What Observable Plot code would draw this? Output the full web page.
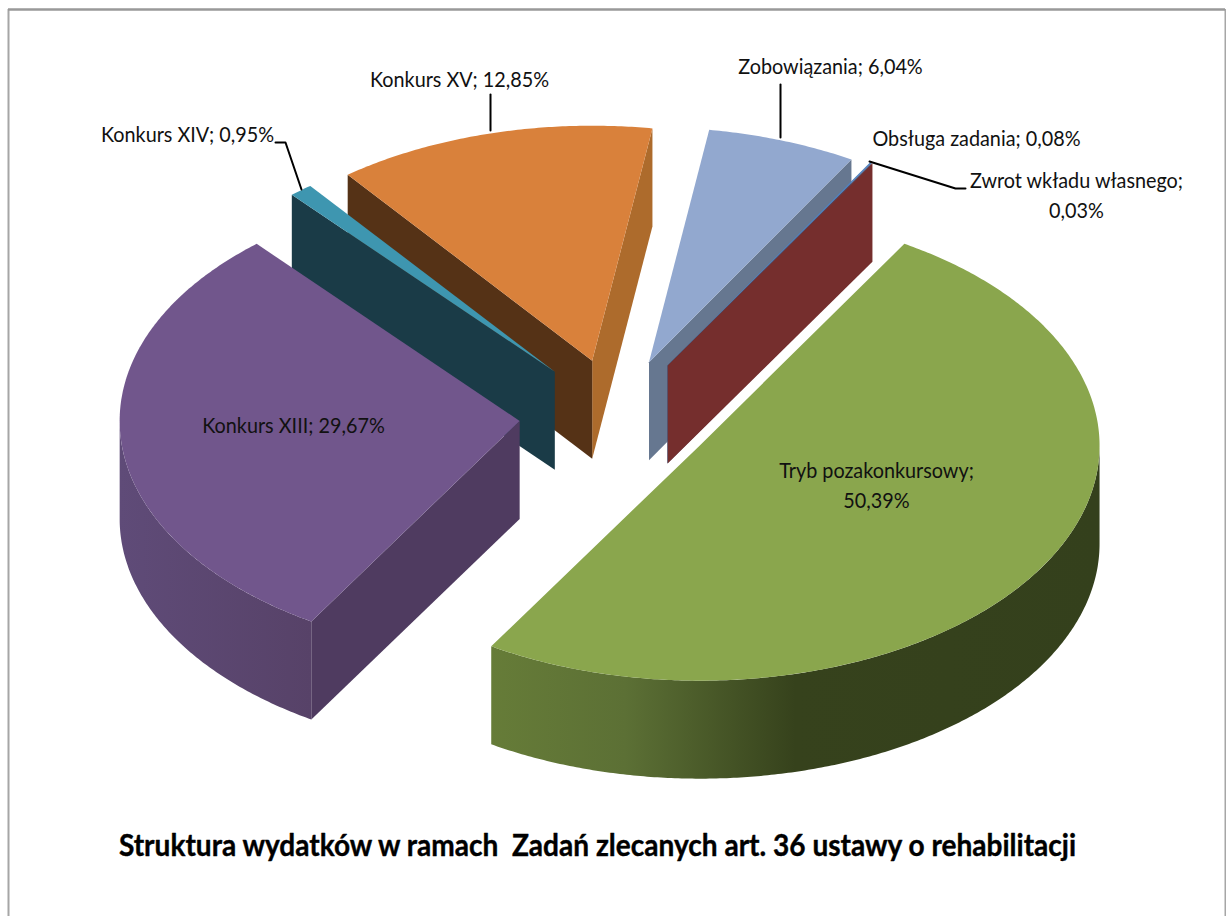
<!DOCTYPE html>
<html><head><meta charset="utf-8">
<script src="https://cdn.jsdelivr.net/npm/d3@7"></script>
<script src="https://cdn.jsdelivr.net/npm/@observablehq/plot@0.6"></script>
<style>html,body{margin:0;padding:0;background:#fff}svg{display:block}</style>
</head><body><div id="chart"></div>
<script>
// Data (clockwise order starting with the big slices)
const categories = ["Tryb pozakonkursowy","Konkurs XIII","Konkurs XIV","Konkurs XV","Zobowiązania","Obsługa zadania","Zwrot wkładu własnego"];
const shares = [50.39,29.67,0.95,12.85,6.04,0.08,0.03];
const pull = [0.243,0.243,0.243,0.243,0.243,0.25,0.25];
const topColors = ["#8AA64D","#71568C","#3E96B0","#D9813B","#92A8CF","#4F81BD","#752E2D"];
const startWall = ["#34401C","#4F3B60","#1A3B47","#553216","#667790","#3A5F8C","#752E2D"];
const endWall = ["#34401C","#4F3B60","#1A3B47","#AD6B2C","#667790","#3A5F8C","#752E2D"];
const outerWall = ["url(#wallGreen)","url(#wallPurple)","#1A3B47","#AD6B2C","#667790","#3A5F8C","#752E2D"];
const paintOrder = [3,2,1,4,5,6,0];

const labelLines = ["Konkurs XV; 12,85%","Konkurs XIV; 0,95%","Zobowiązania; 6,04%","Obsługa zadania; 0,08%","Zwrot wkładu własnego;","0,03%","Konkurs XIII; 29,67%","Tryb pozakonkursowy;","50,39%"];
const labelX = [459,187,830,976,1076,1076,293,876,876];
const labelY = [79,134,66,138,180,210,425,470,500];
const title = "Struktura wydatków w ramach  Zadań zlecanych art. 36 ustawy o rehabilitacji";

const leaders = [
  {id:"XIV",x:275,y:142},{id:"XIV",x:285,y:142},{id:"XIV",x:301,y:189},
  {id:"XV",x:490,y:94},{id:"XV",x:490,y:130},
  {id:"Zob",x:780,y:84},{id:"Zob",x:780,y:137},
  {id:"Zwr",x:869,y:161},{id:"Zwr",x:955,y:188},{id:"Zwr",x:965,y:188}
];

// Pie projection: an ellipse extruded downward, every slice pulled out along its bisector.
// "lean" is the small foreshortening of the 3D view near the lower-left of the pie.
const cx=616, cy=415.5, rx=400, ry=235, depth=98, startAngle=30.8, lean=0.8, leanAt=212;
const rim = (deg)=>{
  const w=(1+Math.cos((deg-leanAt)*Math.PI/180))/2;
  const t=(deg-lean*w*w)*Math.PI/180;
  return [Math.sin(t)*rx, -Math.cos(t)*ry];
};
const total = d3.sum(shares);
let acc = startAngle;
const slices = shares.map((s,i)=>{
  const a0=acc, a1=acc+s/total*360; acc=a1;
  const [ex,ey]=rim((a0+a1)/2);
  return {i,a0,a1,ax:cx+ex*pull[i],ay:cy+ey*pull[i]};
});
function arcPts(sl,a0,a1,dz){
  const n=Math.max(2,Math.ceil((a1-a0)/0.5)), out=[];
  for(let k=0;k<=n;k++){const [x,y]=rim(a0+(a1-a0)*k/n);out.push({x:sl.ax+x,y:sl.ay+y+dz});}
  return out;
}
function wallVisible(sl,a){
  // a straight wall shows when the slice's interior lies above it on the screen
  const [dx,dy]=rim(a),[mx,my]=rim((sl.a0+sl.a1)/2);
  return (dx*my-dy*mx)*(dx>=0?1:-1)<0;
}
function wall(sl,a){
  const [x,y]=rim(a);
  return [{x:sl.ax,y:sl.ay},{x:sl.ax+x,y:sl.ay+y},{x:sl.ax+x,y:sl.ay+y+depth},{x:sl.ax,y:sl.ay+depth}];
}
const poly=(pts,fill)=>Plot.line(pts,{x:"x",y:"y",fill,stroke:"none",curve:"linear"});
const faces=[];
for(const idx of paintOrder){
  const sl=slices[idx];
  if(wallVisible(sl,sl.a1)) faces.push(poly(wall(sl,sl.a1),endWall[idx]));
  if(wallVisible(sl,sl.a0)) faces.push(poly(wall(sl,sl.a0),startWall[idx]));
  const f0=Math.max(sl.a0,90), f1=Math.min(sl.a1,270);
  if(f1>f0){
    const top=arcPts(sl,f0,f1,0), bot=arcPts(sl,f0,f1,depth).reverse();
    faces.push(poly(top.concat(bot),outerWall[idx]));
  }
  faces.push(poly([{x:sl.ax,y:sl.ay},...arcPts(sl,sl.a0,sl.a1,0)],topColors[idx]));
}
const gradients=()=>{
  const defs=d3.create("svg:defs");
  const add=(id,stops)=>{
    const g=defs.append("linearGradient").attr("id",id).attr("x1",0).attr("x2",1).attr("y1",0).attr("y2",0);
    stops.forEach(([o,c])=>g.append("stop").attr("offset",o).attr("stop-color",c));
  };
  add("wallGreen",[[0,"#667C38"],[0.22,"#5C7035"],[0.5,"#36421C"],[1,"#34401C"]]);
  add("wallPurple",[[0,"#5F4B78"],[1,"#574268"]]);
  return defs.node();
};
const labels=labelLines.map((t,i)=>({t,x:labelX[i],y:labelY[i]}));
const chart=Plot.plot({
  width:1226,height:916,margin:0,
  x:{domain:[0,1226],range:[0,1226],axis:null},
  y:{domain:[0,916],range:[0,916],axis:null},
  style:{background:"#fff"},
  marks:[
    gradients,
    ...faces,
    Plot.ruleX([8,1225],{y1:9,y2:916,stroke:"#a6a6a6",strokeWidth:2}),
    Plot.ruleY([9],{x1:8,x2:1225,stroke:"#999",strokeWidth:2.5}),
    Plot.line(leaders,{x:"x",y:"y",z:"id",stroke:"#000",strokeWidth:2,curve:"linear"}),
    Plot.text(labels,{x:"x",y:"y",text:"t",fontFamily:"Lato",fontSize:22,fill:"#111",textAnchor:"middle",className:"squeeze-label"}),
    Plot.text([title],{x:()=>597,y:()=>846,text:d=>d,fontFamily:"Lato",fontWeight:"bold",fontSize:30,fill:"#000",stroke:"#000",strokeWidth:0.4,textAnchor:"middle",className:"squeeze-title"})
  ]
});
document.getElementById("chart").append(chart);
// The reference's labels are set in a narrower face: narrow the same glyphs, keeping them as text.
const squeeze=(sel,k)=>chart.querySelectorAll(sel).forEach(t=>{
  t.setAttribute("textLength",t.getComputedTextLength()*k);
  t.setAttribute("lengthAdjust","spacingAndGlyphs");
});
squeeze(".squeeze-label text",0.9);
squeeze(".squeeze-title text",0.935);
</script></body></html>
